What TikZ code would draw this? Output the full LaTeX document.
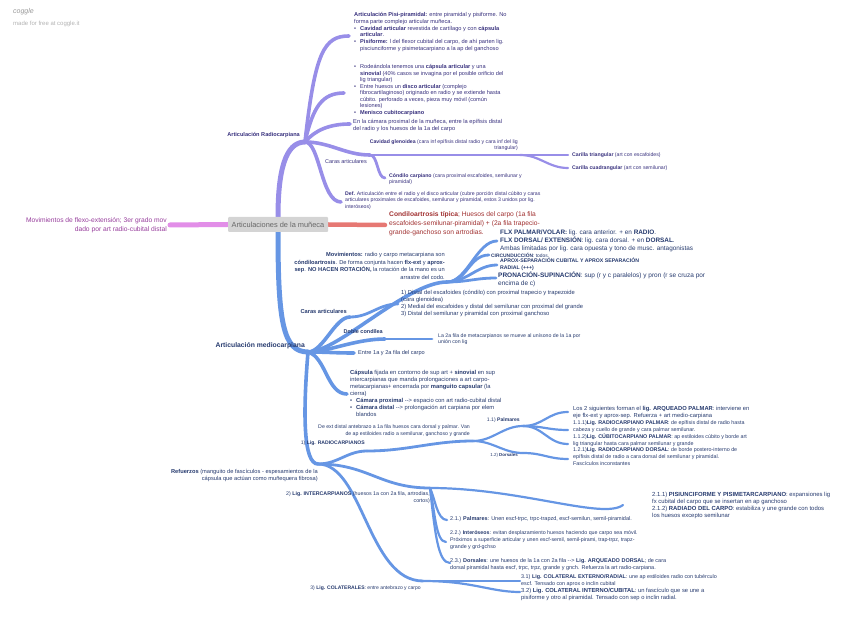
\documentclass[tikz,border=0pt]{standalone}
\usepackage{fontspec}
\setmainfont{Liberation Sans}
\definecolor{radline}{RGB}{152,142,232}
\definecolor{radtext}{RGB}{55,48,125}
\definecolor{medline}{RGB}{102,150,228}
\definecolor{medtext}{RGB}{38,58,110}
\definecolor{movline}{RGB}{226,142,232}
\definecolor{movtext}{RGB}{150,60,155}
\definecolor{conline}{RGB}{230,120,115}
\definecolor{context}{RGB}{160,48,48}
\definecolor{boxfill}{RGB}{212,212,212}
\newcommand{\mybul}{\makebox[6pt][l]{\textbullet}}
\newcommand{\myind}{\hspace*{6pt}}
\newcommand{\fs}[2]{\fontsize{#1}{#2}\selectfont}
\begin{document}
\begin{tikzpicture}[x=1pt, y=-1pt,
    txt/.style={inner sep=0pt, align=left, anchor=west},
    ltxt/.style={inner sep=0pt, align=right, anchor=east},
    rad/.style={draw=radline, line cap=round},
    med/.style={draw=medline, line cap=round},
    lv1/.style={line width=5pt},
    lv2/.style={line width=3.6pt},
    lv3/.style={line width=2.8pt},
    lv4/.style={line width=2.2pt}]
\useasboundingbox (0,0) rectangle (848,617);

\node[txt, text=black!40, font=\fs{7}{8}\itshape] (logo) at (13,12) {coggle};
\node[txt, text=black!30, font=\fs{6}{7}] (made) at (13,24) {made for free at coggle.it};

% centro
\coordinate (pink) at (170,225);
\coordinate (red) at (385,225);
\coordinate (rhub) at (305,142);
\coordinate (mhub) at (308,352);
\node[inner sep=0pt, minimum width=100pt, minimum height=15pt] (cen) at (278,224.5) {};
\draw[movline, line width=5pt, line cap=round] (cen.west) -- (pink);
\draw[conline, line width=4.5pt, line cap=round] (cen.east) -- (red);
\draw[rad, lv1] (cen.north) .. controls +(0,-45) and +(-20,0) .. (rhub);
\draw[med, lv1] (cen.south) .. controls +(0,90) and +(-25,0) .. (mhub);
\node[fill=boxfill, rounded corners=1pt, minimum width=100pt, minimum height=15pt, text=black!60, font=\fs{7.4}{8}] (box) at (cen) {Articulaciones de la muñeca};

% radiocarpiana
\coordinate (rpisi) at (349,36);
\coordinate (rrode) at (344,93);
\coordinate (rcam) at (350,124);
\coordinate (rcaras) at (370,155);
\coordinate (rcav) at (520,155);
\coordinate (rtri) at (568,155);
\coordinate (rcua) at (568,168);
\coordinate (rcond) at (385,178);
\coordinate (rdef) at (341,202);
\draw[rad, lv2] (rhub) .. controls +(10,-90) and +(-25,0) .. (rpisi);
\draw[rad, lv2] (rhub) .. controls +(8,-35) and +(-22,0) .. (rrode);
\draw[rad, lv2] (rhub) .. controls +(10,-12) and +(-20,0) .. (rcam);
\draw[rad, lv2] (rhub) .. controls +(25,0) and +(-25,0) .. (rcaras);
\draw[rad, lv2] (rhub) .. controls +(15,0) and +(-20,0) .. (rdef);
\draw[rad, lv3] (rcaras) -- (rcav);
\draw[rad, lv3] (rcaras) .. controls +(8,0) and +(-8,0) .. (rcond);
\draw[rad, lv4] (rcav) -- (rtri);
\draw[rad, lv4] (rcav) .. controls +(20,0) and +(-20,0) .. (rcua);

\node[ltxt, text=radtext, font=\fs{5.6}{7}\bfseries] (rlab) at (300,135) {Articulación Radiocarpiana};
\node[txt, text=radtext, font=\fs{5.65}{6.9}] (pisi) at (354,32) {\textbf{Articulación Pisi-piramidal:} entre piramidal y pisiforme. No\\
forma parte complejo articular muñeca.\\
\mybul\textbf{Cavidad articular} revestida de cartílago y con \textbf{cápsula}\\
\myind\textbf{articular}.\\
\mybul\textbf{Pisiforme:} l del flexor cubital del carpo, de ahí parten lig.\\
\myind pisciunciforme y pisimetacarpiano a la ap del ganchoso};
\node[txt, text=radtext, font=\fs{5.6}{6.45}] (rode) at (354,90) {\mybul Rodeándola tenemos una \textbf{cápsula articular} y una\\
\myind\textbf{sinovial} (40\% casos se invagina por el posible orificio del\\
\myind lig triangular)\\
\mybul Entre huesos un \textbf{disco articular} (complejo\\
\myind fibrocartilaginoso) originado en radio y se extiende hasta\\
\myind cúbito. perforado a veces, pieza muy móvil (común\\
\myind lesiones)\\
\mybul\textbf{Menisco cubitocarpiano}};
\node[txt, text=radtext, font=\fs{5.7}{7}] (cam) at (353,125) {En la cámara proximal de la muñeca, entre la epífisis distal\\del radio y los huesos de la 1a del carpo};
\node[txt, text=radtext, font=\fs{5.5}{7}] (rcarlab) at (325,162) {Caras articulares};
\node[ltxt, text=radtext, font=\fs{5.2}{6.5}] (cav) at (518,145) {\textbf{Cavidad glenoidea} (cara inf epífisis distal radio y cara inf del lig\\triangular)};
\node[txt, text=radtext, font=\fs{5.2}{6.5}] (tri) at (572,155) {\textbf{Carilla triangular} (art con escafoides)};
\node[txt, text=radtext, font=\fs{5.2}{6.5}] (cua) at (572,168.5) {\textbf{Carilla cuadrangular} (art con semilunar)};
\node[txt, text=radtext, font=\fs{5.2}{6.5}] (cond) at (389,179) {\textbf{Cóndilo carpiano} (cara proximal escafoides, semilunar y\\piramidal)};
\node[txt, text=radtext, font=\fs{5.2}{6.5}] (def) at (345,200.5) {\textbf{Def.} Articulación entre el radio y el disco articular (cubre porción distal cúbito y caras\\articulares proximales de escafoides, semilunar y piramidal, estos 3 unidos por lig.\\interóseos)};

% ramas laterales
\node[ltxt, text=movtext, font=\fs{6.7}{9}] (mov) at (167,225) {Movimientos de flexo-extensión; 3er grado mov\\dado por art radio-cubital distal};
\node[txt, text=context, font=\fs{6.7}{9}] (cond2) at (389,224) {\textbf{Condiloartrosis típica}; Huesos del carpo (1a fila\\escafoides-semilunar-piramidal) + (2a fila trapecio-\\grande-ganchoso son artrodias.};

% mediocarpiana
\coordinate (mmov) at (447,282);
\coordinate (mflx) at (497,241);
\coordinate (mcirc) at (489,255);
\coordinate (maprox) at (497,265);
\coordinate (mpron) at (496,278);
\coordinate (mcaras) at (350,317);
\coordinate (mdist) at (398,304);
\coordinate (mdoble) at (385,339);
\coordinate (mla) at (432,339);
\coordinate (mentre) at (354,353);
\coordinate (mcaps) at (347,394);
\coordinate (mref) at (318,464);
\coordinate (mrc) at (367,451);
\coordinate (mrcdesc) at (473,441);
\coordinate (mpal) at (523,426);
\coordinate (mdor) at (523,453);
\coordinate (mlos) at (568,412);
\coordinate (m111) at (568,430);
\coordinate (m112) at (568,444);
\coordinate (m121) at (568,459);
\coordinate (minter) at (430,488);
\coordinate (m211) at (623,505);
\coordinate (m21) at (447,520);
\coordinate (m22) at (446,542);
\coordinate (m23) at (450,563);
\coordinate (mcol) at (423,581);
\coordinate (m31) at (520,581);
\coordinate (m32) at (520,592);

\draw[med, lv2] (mhub) .. controls +(30,0) and +(-40,0) .. (mmov);
\draw[med, lv2] (mhub) .. controls +(15,0) and +(-15,0) .. (mcaras);
\draw[med, lv2] (mhub) .. controls +(20,0) and +(-30,0) .. (mdoble);
\draw[med, lv2] (mhub) .. controls +(20,0) and +(-20,0) .. (mentre);
\draw[med, lv2] (mhub) .. controls +(18,5) and +(-20,0) .. (mcaps);
\draw[med, lv2] (mhub) .. controls +(-5,60) and +(-15,0) .. (mref);
\draw[med, lv3] (mmov) .. controls +(20,0) and +(-20,0) .. (mflx);
\draw[med, lv3] (mmov) .. controls +(20,0) and +(-20,0) .. (mcirc);
\draw[med, lv3] (mmov) .. controls +(20,0) and +(-20,0) .. (maprox);
\draw[med, lv3] (mmov) .. controls +(20,0) and +(-20,0) .. (mpron);
\draw[med, lv3] (mcaras) .. controls +(20,0) and +(-20,0) .. (mdist);
\draw[med, lv3] (mdoble) -- (mla);
\draw[med, lv3] (mref) .. controls +(20,0) and +(-20,0) .. (mrc);
\draw[med, lv3] (mref) .. controls +(50,0) and +(-50,0) .. (minter);
\draw[med, lv3] (mref) .. controls +(45,0) and +(-55,0) .. (mcol);
\draw[med, lv3] (mrc) .. controls +(40,0) and +(-40,0) .. (mrcdesc);
\draw[med, lv4] (mrcdesc) .. controls +(20,0) and +(-20,0) .. (mpal);
\draw[med, lv4] (mrcdesc) .. controls +(20,0) and +(-20,0) .. (mdor);
\draw[med, lv4] (mpal) .. controls +(20,0) and +(-20,0) .. (mlos);
\draw[med, lv4] (mpal) .. controls +(20,0) and +(-20,0) .. (m111);
\draw[med, lv4] (mpal) .. controls +(20,0) and +(-20,0) .. (m112);
\draw[med, lv4] (mdor) .. controls +(20,0) and +(-20,0) .. (m121);
\draw[med, lv4] (minter) .. controls +(90,0) and +(-20,15) .. (m211);
\draw[med, lv4] (minter) .. controls +(5,10) and +(-10,0) .. (m21);
\draw[med, lv4] (minter) .. controls +(5,25) and +(-10,0) .. (m22);
\draw[med, lv4] (minter) .. controls +(5,45) and +(-12,0) .. (m23);
\draw[med, lv4] (mcol) -- (m31);
\draw[med, lv4] (mcol) .. controls +(50,0) and +(-30,0) .. (m32);

\node[ltxt, text=medtext, font=\fs{6.8}{8}\bfseries] (mlab) at (305,346) {Articulación mediocarpiana};
\node[txt, text=medtext, font=\fs{6.4}{8}] (flx) at (500,241) {\textbf{FLX PALMAR/VOLAR:} lig. cara anterior. + en \textbf{RADIO}.\\
\textbf{FLX DORSAL/ EXTENSIÓN}: lig. cara dorsal. + en \textbf{DORSAL}.\\
Ambas limitadas por lig. cara opuesta y tono de musc. antagonistas};
\node[txt, font=\fs{4.9}{6}, text=medtext] (circ) at (491,255) {\textbf{CIRCUNDUCCIÓN}: todos.};
\node[txt, font=\fs{5.2}{7}\bfseries, text=medtext] (aprox) at (500,264.5) {APROX-SEPARACIÓN CUBITAL Y APROX SEPARACIÓN\\RADIAL (+++)};
\node[txt, font=\fs{6.5}{7.5}, text=medtext] (pron) at (498,279.5) {\textbf{PRONACIÓN-SUPINACIÓN}: sup (r y c paralelos) y pron (r se cruza por\\encima de c)};
\node[ltxt, text=medtext, font=\fs{5.7}{7.4}] (movi) at (445,266) {\textbf{Movimientos:} radio y carpo metacarpiana son\\
\textbf{cóndiloartrosis}. De forma conjunta hacen \textbf{flx-ext} y \textbf{aprox-}\\
\textbf{sep}. \textbf{NO HACEN ROTACIÓN,} la rotación de la mano es un\\
arrastre del codo.};
\node[ltxt, text=medtext, font=\fs{5.7}{7}\bfseries] (mcarlab) at (347,311) {Caras articulares};
\node[txt, text=medtext, font=\fs{5.8}{7}] (dist) at (401,303.5) {1) Distal del escafoides (cóndilo) con proximal trapecio y trapezoide\\
(cara glenoidea)\\
2) Medial del escafoides y distal del semilunar con proximal del grande\\
3) Distal del semilunar y piramidal con proximal ganchoso};
\node[ltxt, text=medtext, font=\fs{5.5}{7}\bfseries] (doble) at (383,332) {Doble condílea};
\node[txt, text=medtext, font=\fs{5.2}{6.5}] (la) at (438,339) {La 2a fila de metacarpianos se mueve al unísono de la 1a por\\unión con lig};
\node[txt, text=medtext, font=\fs{5.6}{7}] (entre) at (358,353) {Entre 1a y 2a fila del carpo};
\node[txt, text=medtext, font=\fs{5.8}{7}] (caps) at (350,393.5) {\textbf{Cápsula} fijada en contorno de sup art + \textbf{sinovial} en sup\\
intercarpianas que manda prolongaciones a art carpo-\\
metacarpianas+ encerrada por \textbf{manguito capsular} (la\\
cierra)\\
\mybul\textbf{Cámara proximal} -{}-> espacio con art radio-cubital distal\\
\mybul\textbf{Cámara distal} -{}-> prolongación art carpiana por elem\\
\myind blandos};
\node[ltxt, text=medtext, font=\fs{5.7}{7.5}] (ref) at (318,475.5) {\textbf{Refuerzos} (manguito de fascículos - espesamientos de la\\cápsula que actúan como muñequera fibrosa)};
\node[ltxt, text=medtext, font=\fs{5.2}{7}] (rcdesc) at (470,430.5) {De ext distal antebrazo a 1a fila huesos cara dorsal y palmar. Van\\de ap estiloides radio a semilunar, ganchoso y grande};
\node[ltxt, text=medtext, font=\fs{5.1}{6}] (rc) at (365,443) {1) \textbf{Lig. RADIOCARPIANOS}};
\node[ltxt, text=medtext, font=\fs{5.1}{6}] (pal) at (520,420) {1.1) \textbf{Palmares}};
\node[ltxt, text=medtext, font=\fs{4.4}{5}] (dor) at (518,455) {1.2) \textbf{Dorsales}};
\node[txt, text=medtext, font=\fs{5.8}{7}] (los) at (573,412.5) {Los 2 siguientes forman el \textbf{lig. ARQUEADO PALMAR}: interviene en\\eje flx-ext y aprox-sep. Refuerza + art medio-carpiana};
\node[txt, text=medtext, font=\fs{5.35}{7}] (l111) at (573,426.5) {1.1.1)\textbf{Lig. RADIOCARPIANO PALMAR}: de epífisis distal de radio hasta\\cabeza y cuello de grande y cara palmar semilunar.};
\node[txt, text=medtext, font=\fs{5.35}{7}] (l112) at (573,440) {1.1.2)\textbf{Lig. CÚBITOCARPIANO PALMAR}: ap estiloides cúbito y borde art\\lig triangular hasta cara palmar semilunar y grande};
\node[txt, text=medtext, font=\fs{5.35}{7}] (l121) at (573,457) {1.2.1)\textbf{Lig. RADIOCARPIANO DORSAL}: de borde postero-interno de\\epífisis distal de radio a cara dorsal del semilunar y piramidal.\\Fascículos inconstantes};
\node[ltxt, text=medtext, font=\fs{5.3}{7}] (inter) at (430,497.5) {2) \textbf{Lig. INTERCARPIANOS} (huesos 1a con 2a fila, artrodias,\\cortos)};
\node[txt, text=medtext, font=\fs{5.9}{7}] (l211) at (652,505.5) {2.1.1) \textbf{PISIUNCIFORME Y PISIMETARCARPIANO}: expansiones lig\\
fx cubital del carpo que se insertan en ap ganchoso\\
2.1.2) \textbf{RADIADO DEL CARPO}: estabiliza y une grande con todos\\
los huesos excepto semilunar};
\node[txt, text=medtext, font=\fs{5.5}{7}] (l21) at (450,519) {2.1.) \textbf{Palmares}: Unen escf-trpc, trpc-trapzd, escf-semilun, semil-piramidal.};
\node[txt, text=medtext, font=\fs{5.3}{7.2}] (l22) at (450,540) {2.2.) \textbf{Interóseos}: evitan desplazamiento huesos haciendo que carpo sea móvil.\\
Próximos a superficie articular y unen escf-semil, semil-pirami, trap-trpz, trapz-\\
grande y grd-gchso};
\node[txt, text=medtext, font=\fs{5.5}{7}] (l23) at (450,564.5) {2.3.) \textbf{Dorsales}: une huesos de la 1a con 2a fila -{}-> \textbf{Lig. ARQUEADO DORSAL}; de cara\\dorsal piramidal hasta escf, trpc, trpz, grande y gnch. Refuerza la art radio-carpiana.};
\node[ltxt, text=medtext, font=\fs{5.05}{6}] (col) at (421,588) {3) \textbf{Lig. COLATERALES}: entre antebrazo y carpo};
\node[txt, text=medtext, font=\fs{5.4}{7}] (l31) at (521,580.5) {3.1) \textbf{Lig. COLATERAL EXTERNO/RADIAL}: une ap estiloides radio con tubérculo\\escf. Tensado con aprox o inclin cubital};
\node[txt, text=medtext, font=\fs{5.8}{7.5}] (l32) at (521,594.5) {3.2) \textbf{Lig. COLATERAL INTERNO/CUBITAL}: un fascículo que se une a\\pisiforme y otro al piramidal. Tensado con sep o inclin radial.};
\end{tikzpicture}
\end{document}
